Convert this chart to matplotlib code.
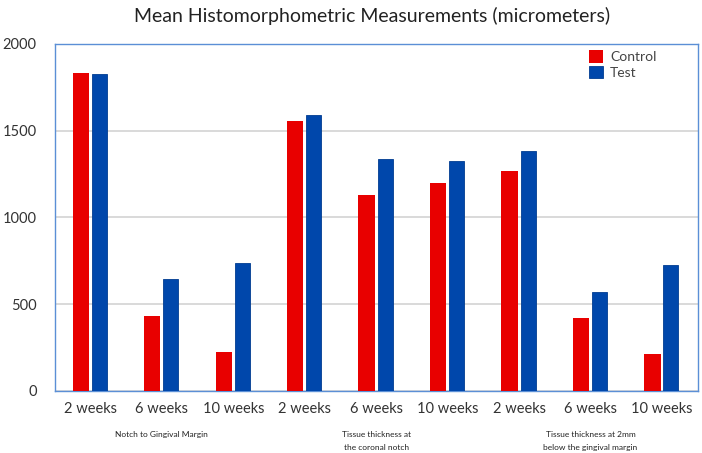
import numpy as np
import matplotlib
matplotlib.use("Agg")
import matplotlib.pyplot as plt

plt.rcParams["font.family"] = ["Lato", "DejaVu Sans"]

# --- data ---
weeks = ["2 weeks", "6 weeks", "10 weeks"] * 3
control = [1835, 430, 223, 1556, 1128, 1197, 1266, 423, 211]
test = [1825, 648, 740, 1593, 1335, 1323, 1385, 569, 728]
groups = ["Notch to Gingival Margin",
          "Tissue thickness at\nthe coronal notch",
          "Tissue thickness at 2mm\nbelow the gingival margin"]
yticks = [0, 500, 1000, 1500, 2000]

red = "#E80000"
blue = "#0047AB"
edge = "#5B8FD6"

fig = plt.figure(figsize=(7.02, 4.53), dpi=100)
ax = fig.add_axes([0.078, 0.137, 0.916, 0.766])

x = np.arange(len(weeks))
w = 0.23
ax.bar(x - 0.135, control, width=w, color=red, label="Control", zorder=3)
ax.bar(x + 0.125, test, width=0.21, color=blue, edgecolor="#003C90", lw=0.6,
       label="Test", zorder=3)

ax.set_xlim(-0.5, len(weeks) - 0.5)
ax.set_ylim(0, 2000)
ax.set_yticks(yticks)
ax.set_yticklabels([str(v) for v in yticks], fontsize=10.5, color="#333333")
ax.set_xticks(x)
ax.set_xticklabels(weeks, fontsize=10.5, color="#333333")
ax.tick_params(axis="x", length=0, pad=8)
ax.tick_params(axis="y", length=0, pad=13)
ax.grid(axis="y", color="#D0D0D0", lw=1.1, zorder=0)
for s in ax.spines.values():
    s.set_color(edge)
    s.set_linewidth(1.0)

# group captions under the middle category of each group
for i, g in enumerate(groups):
    ax.text(3 * i + 1, -0.115, g, transform=ax.get_xaxis_transform(),
            ha="center", va="top", fontsize=6, color="#222222",
            linespacing=2.0)

fig.text(0.53, 0.965, "Mean Histomorphometric Measurements (micrometers)",
         ha="center", va="center", fontsize=14, color="#222222")

ax.legend(loc="upper right", bbox_to_anchor=(0.955, 1.018), frameon=False,
          fontsize=10, handlelength=1.0, handleheight=1.0, handletextpad=0.5,
          labelspacing=0.2, labelcolor="#444444")

plt.savefig("out.png", dpi=100)
plt.close()
